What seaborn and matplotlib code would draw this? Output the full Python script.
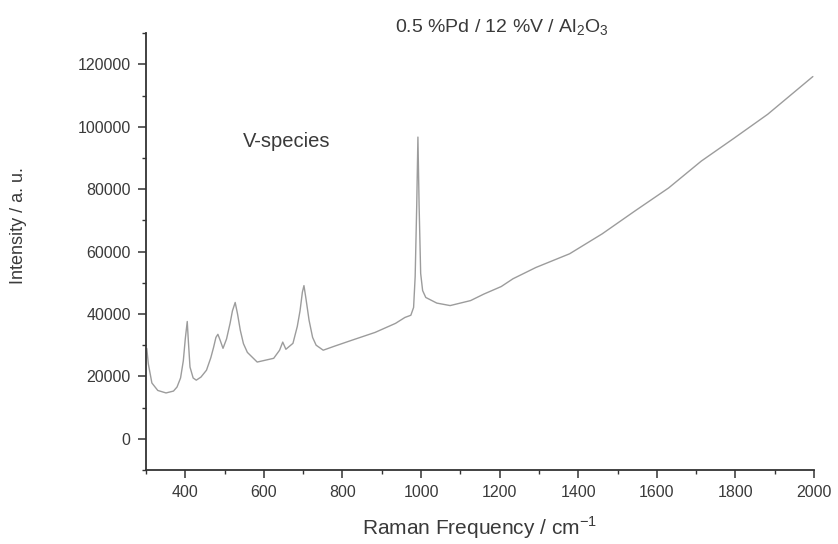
import matplotlib
matplotlib.use("Agg")
import matplotlib.pyplot as plt
from matplotlib.ticker import MultipleLocator
import seaborn as sns
import pandas as pd

# Raman spectrum 0.5 %Pd / 12 %V / Al2O3
raman_shift = [302, 306, 315, 330, 351, 370, 379, 388, 395, 400, 405, 408, 412,
               420, 428, 440, 454, 465, 472, 478, 483, 489, 496, 505, 514, 520,
               527, 533, 540, 548, 558, 583, 625, 640, 648, 656, 674, 685, 692,
               698, 702, 707, 715, 724, 733, 751, 780, 824, 883, 935, 959, 974,
               981, 985, 989, 992, 995, 999, 1004, 1012, 1040, 1074, 1126, 1160,
               1204, 1234, 1292, 1378, 1461, 1544, 1630, 1713, 1796, 1882, 1997]
intensity = [29000, 24000, 17900, 15500, 14700, 15300, 16600, 19500, 25000, 32000,
             37600, 31000, 23000, 19500, 18800, 19800, 22000, 26000, 29300, 32500,
             33500, 31500, 29000, 32000, 37000, 41000, 43700, 40000, 34800, 30500,
             27700, 24600, 25800, 28400, 31000, 28700, 30600, 36000, 41000, 47000,
             49100, 45000, 38000, 32500, 30000, 28400, 29700, 31600, 34100, 37000,
             38900, 39600, 42100, 52000, 75000, 96700, 75000, 53000, 47500, 45300,
             43500, 42700, 44300, 46400, 48800, 51300, 54900, 59300, 65700, 73000,
             80400, 89000, 96300, 104000, 116100]

x_ticks = [400, 600, 800, 1000, 1200, 1400, 1600, 1800, 2000]
y_ticks = [0, 20000, 40000, 60000, 80000, 100000, 120000]

df = pd.DataFrame({"shift": raman_shift, "intensity": intensity})

sns.set_theme(style="ticks")
plt.rcParams["font.family"] = ["Liberation Sans", "DejaVu Sans"]
plt.rcParams["mathtext.fontset"] = "custom"
plt.rcParams["mathtext.rm"] = "Liberation Sans"

text_col = "#3a3a3a"

fig = plt.figure(figsize=(8.38, 5.44), dpi=100)
ax = fig.add_axes([0.1742, 0.136, 0.7972, 0.803])

sns.lineplot(data=df, x="shift", y="intensity", ax=ax, color="#9c9c9c",
             linewidth=1.0, estimator=None, sort=False)

ax.set_xlim(300, 2000)
ax.set_ylim(-10000, 130000)
ax.set_xticks(x_ticks)
ax.set_yticks(y_ticks)
ax.xaxis.set_minor_locator(MultipleLocator(100))
ax.yaxis.set_minor_locator(MultipleLocator(10000))

sns.despine(ax=ax)
for side in ["left", "bottom"]:
    ax.spines[side].set_color("#333333")
    ax.spines[side].set_linewidth(1.3)

ax.tick_params(which="major", direction="out", length=6, width=1.1,
               color="#333333", labelsize=11.5, labelcolor=text_col, pad=5)
ax.tick_params(which="minor", direction="out", length=3, width=1.0, color="#333333")

ax.set_xlabel("Raman Frequency / cm$^{-1}$", fontsize=15, color=text_col, labelpad=10)
ax.set_ylabel("Intensity / a. u.", fontsize=13, color=text_col)
ax.yaxis.set_label_coords(-0.178, 0.56)

ax.text(547, 95400, "V-species", fontsize=14.5, color=text_col, ha="left", va="center")
fig.text(0.599, 0.948, r"0.5 %Pd / 12 %V / Al$_2$O$_3$", fontsize=14,
         color=text_col, ha="center", va="center")

fig.savefig("out.png", dpi=100, facecolor="white")
